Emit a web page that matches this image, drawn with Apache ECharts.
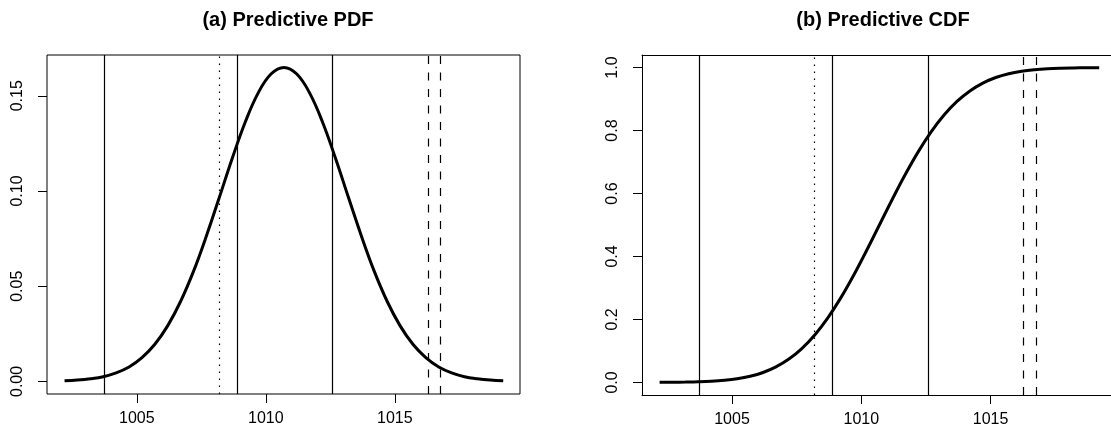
<!DOCTYPE html>
<html>
<head>
<meta charset="utf-8">
<script src="https://cdn.jsdelivr.net/npm/echarts@6/dist/echarts.min.js"></script>
<style>
  html, body { margin: 0; padding: 0; background: #fff; }
  #chart { width: 1111px; height: 434px; }
</style>
</head>
<body>
<div id="chart"></div>
<script>
// values
const xVals = [1002.2, 1002.7, 1003.2, 1003.7, 1004.2, 1004.7, 1005.2, 1005.7, 1006.2, 1006.7,
  1007.2, 1007.7, 1008.2, 1008.7, 1009.2, 1009.7, 1010.2, 1010.7, 1011.2, 1011.7,
  1012.2, 1012.7, 1013.2, 1013.7, 1014.2, 1014.7, 1015.2, 1015.7, 1016.2, 1016.7,
  1017.2, 1017.7, 1018.2, 1018.7, 1019.2];
const pdfVals = [0.0003, 0.0007, 0.0014, 0.0025, 0.0045, 0.0076, 0.0125, 0.0195, 0.0293, 0.0421,
  0.0579, 0.0765, 0.0967, 0.1172, 0.1361, 0.1514, 0.1614, 0.1649, 0.1614, 0.1514,
  0.1361, 0.1172, 0.0967, 0.0765, 0.0579, 0.0421, 0.0293, 0.0195, 0.0125, 0.0076,
  0.0045, 0.0025, 0.0014, 0.0007, 0.0003];
const cdfVals = [0.0002, 0.0005, 0.0010, 0.0019, 0.0036, 0.0066, 0.0115, 0.0194, 0.0314, 0.0492,
  0.0741, 0.1075, 0.1508, 0.2043, 0.2677, 0.3397, 0.4182, 0.5000, 0.5818, 0.6603,
  0.7323, 0.7957, 0.8492, 0.8925, 0.9259, 0.9508, 0.9686, 0.9806, 0.9885, 0.9934,
  0.9964, 0.9981, 0.9990, 0.9995, 0.9998];

const solidLines = [1003.74, 1008.88, 1012.59];
const dottedLines = [1008.19];
const dashedLines = [1016.28, 1016.76];

const xTicks = [1005, 1010, 1015];
const pdfTicks = [0, 0.05, 0.10, 0.15];
const cdfTicks = [0, 0.2, 0.4, 0.6, 0.8, 1.0];

const font = 'Liberation Sans';
const xMin = 1001.52, xMax = 1019.85;

function vlines() {
  const out = [];
  solidLines.forEach(v => out.push({ xAxis: v, lineStyle: { type: 'solid' } }));
  dottedLines.forEach(v => out.push({ xAxis: v, lineStyle: { type: [1.5, 5.5] } }));
  dashedLines.forEach(v => out.push({ xAxis: v, lineStyle: { type: [8, 8.5] } }));
  return out;
}

function xAxisFor(idx, line) {
  return {
    type: 'value', gridIndex: idx, min: xMin, max: xMax,
    splitLine: { show: false },
    axisLine: { show: line, onZero: false, lineStyle: { color: '#000', width: 1 } },
    axisTick: { show: true, inside: false, length: 9, customValues: xTicks,
      lineStyle: { color: '#000', width: 1 } },
    axisLabel: { customValues: xTicks, margin: 17, color: '#000',
      fontFamily: font, fontSize: 16, formatter: v => String(v) }
  };
}

function yAxisFor(idx, min, max, ticks, digits, line) {
  return {
    type: 'value', gridIndex: idx, min: min, max: max,
    splitLine: { show: false },
    axisLine: { show: line, onZero: false, lineStyle: { color: '#000', width: 1 } },
    axisTick: { show: true, inside: false, length: 9, customValues: ticks,
      lineStyle: { color: '#000', width: 1 } },
    axisLabel: { customValues: ticks, rotate: 90, margin: 21, color: '#000',
      fontFamily: font, fontSize: 16,
      formatter: v => v.toFixed(digits) }
  };
}

function curve(idx, vals) {
  return {
    type: 'line', xAxisIndex: idx, yAxisIndex: idx,
    data: xVals.map((x, i) => [x, vals[i]]),
    showSymbol: false, smooth: 0.4,
    lineStyle: { color: '#000', width: 3 },
    markLine: {
      silent: true, symbol: ['none', 'none'], label: { show: false },
      lineStyle: { color: '#000', width: 1.2 },
      data: vlines()
    }
  };
}

const chart = echarts.init(document.getElementById('chart'));
chart.setOption({
  animation: false,
  backgroundColor: '#fff',
  title: [
    { text: '(a) Predictive PDF', left: 283, top: 5, textAlign: 'center',
      textStyle: { fontFamily: font, fontSize: 20, fontWeight: 'bold', color: '#000' } },
    { text: '(b) Predictive CDF', left: 878, top: 5, textAlign: 'center',
      textStyle: { fontFamily: font, fontSize: 20, fontWeight: 'bold', color: '#000' } }
  ],
  grid: [
    { left: 47, top: 55, width: 473, height: 339, show: true, outerBoundsMode: 'none',
      containLabel: false, borderColor: '#000', borderWidth: 1, backgroundColor: 'transparent' },
    // right panel: box runs past the picture edge, so draw only left/bottom/top
    { left: 642, top: 55, width: 474, height: 340, show: false, outerBoundsMode: 'none',
      containLabel: false }
  ],
  xAxis: [
    xAxisFor(0, false),
    xAxisFor(1, true),
    { type: 'value', gridIndex: 1, position: 'top', min: xMin, max: xMax,
      axisLine: { show: true, onZero: false, lineStyle: { color: '#000', width: 1 } },
      axisTick: { show: false }, axisLabel: { show: false }, splitLine: { show: false } }
  ],
  yAxis: [
    yAxisFor(0, -0.0066, 0.1714, pdfTicks, 2, false),
    yAxisFor(1, -0.04, 1.04, cdfTicks, 1, true)
  ],
  series: [curve(0, pdfVals), curve(1, cdfVals)]
});
</script>
</body>
</html>
